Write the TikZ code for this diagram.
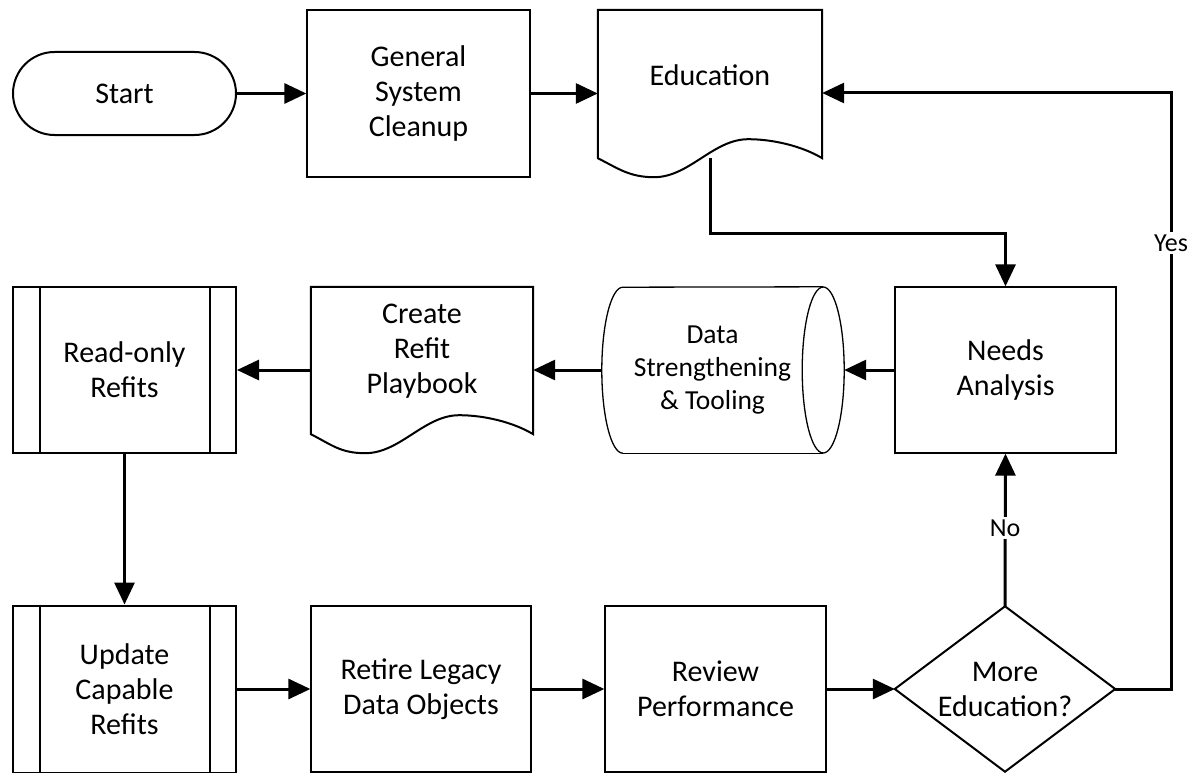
\documentclass[tikz,border=0pt]{standalone}
\usepackage{fontspec}
\setmainfont{Carlito}
\usetikzlibrary{arrows.meta}
\begin{document}
\begin{tikzpicture}[x=1pt,y=-1pt, line join=miter,
  every node/.style={font=\fontsize{30}{35}\selectfont, align=center, inner sep=0pt},
  thinbox/.style={draw, line width=1.3pt},
  thickbox/.style={draw, line width=2pt},
  outl/.style={line width=2pt},
  cyl/.style={line width=1.3pt},
  conn/.style={line width=3pt, -{Triangle[length=22pt,width=20pt]}},
  lbl/.style={font=\fontsize{26}{30}\selectfont, fill=white, inner sep=3pt}]
\useasboundingbox (0,0) rectangle (1193,773);

% top row
\node[thickbox, rounded corners=41.5pt, minimum width=223pt, minimum height=83pt] (start) at (124.5,93.5) {Start};
\node[thinbox, minimum width=223pt, minimum height=167pt] (cleanup) at (418.5,93.5) {General\\System\\Cleanup};
\node[minimum width=224pt, minimum height=148pt] (edu) at (710,84) {\raisebox{9pt}[\height][\depth]{Education}};
\draw[outl] (edu.south west) -- (edu.north west) -- (edu.north east) -- (edu.south east)
  .. controls +(-20,-12) and +(25,0) .. ++(-74,-19)
  .. controls +(-35,0) and +(35,0) .. ++(-94,38)
  .. controls +(-25,0) and +(20,10) .. (edu.south west) -- cycle;

% middle row
\node[thinbox, minimum width=221pt, minimum height=166pt] (needs) at (1005.5,370) {Needs\\Analysis};
\node[minimum width=221pt, minimum height=166pt, font=\fontsize{27.5}{33}\selectfont] (data) at (712.5,370) {Data\\Strengthening\\\& Tooling};
\draw[cyl] ([xshift=21pt]data.south west) arc[start angle=270, end angle=90, x radius=21pt, y radius=83pt] -- (data.north east);
\draw[cyl] ([xshift=21pt]data.south west) -- (data.south east);
\draw[cyl] (data.east) ellipse [x radius=21pt, y radius=83pt];
\node[minimum width=222pt, minimum height=147pt] (pb) at (422,360.5) {\raisebox{9pt}[\height][\depth]{\begin{tabular}{@{}c@{}}Create\\Refit\\Playbook\end{tabular}}};
\draw[outl] (pb.south west) -- (pb.north west) -- (pb.north east) -- (pb.south east)
  .. controls +(-20,-12) and +(25,0) .. ++(-74,-19)
  .. controls +(-35,0) and +(35,0) .. ++(-94,38)
  .. controls +(-25,0) and +(20,10) .. (pb.south west) -- cycle;
\node[thickbox, minimum width=223pt, minimum height=166pt] (ro) at (124.5,370) {Read-only\\Refits};
\draw[outl] ([xshift=28pt]ro.north west) -- ([xshift=28pt]ro.south west);
\draw[outl] ([xshift=-27pt]ro.north east) -- ([xshift=-27pt]ro.south east);

% bottom row
\node[thickbox, minimum width=223pt, minimum height=167pt] (upd) at (124.5,689) {Update\\Capable\\Refits};
\draw[outl] ([xshift=28pt]upd.north west) -- ([xshift=28pt]upd.south west);
\draw[outl] ([xshift=-27pt]upd.north east) -- ([xshift=-27pt]upd.south east);
\node[thinbox, minimum width=220pt, minimum height=166pt] (retire) at (421,689) {Retire Legacy\\Data Objects};
\node[thinbox, minimum width=221pt, minimum height=166pt] (review) at (715.5,689) {Review\\Performance};
\node[minimum width=220pt, minimum height=165pt] (dec) at (1005,689) {More\\Education?};
\draw[outl] (dec.west) -- (dec.north) -- (dec.east) -- (dec.south) -- cycle;

% connectors
\draw[conn] (start.east) -- (cleanup.west);
\draw[conn] (cleanup.east) -- (cleanup.east -| edu.west);
\draw[conn] (edu.south) -- ++(0,75) -| (needs.north);
\draw[conn] (needs.west) -- ([xshift=21pt]data.east);
\draw[conn] (data.west) -- (data.west -| pb.east);
\draw[conn] (ro.east -| pb.west) -- (ro.east);
\draw[conn] (ro.south) -- (upd.north);
\draw[conn] (upd.east) -- (retire.west);
\draw[conn] (retire.east) -- (review.west);
\draw[conn] (review.east) -- (dec.west);
\draw[conn] (dec.north) -- (needs.south);
\coordinate (yc) at (1171,93);
\draw[conn] (dec.east) -| (yc) -- (yc -| edu.east);
\node[lbl] (yes) at (1171,243) {Yes};
\node[lbl] (no) at (1005,528) {No};
\end{tikzpicture}
\end{document}
